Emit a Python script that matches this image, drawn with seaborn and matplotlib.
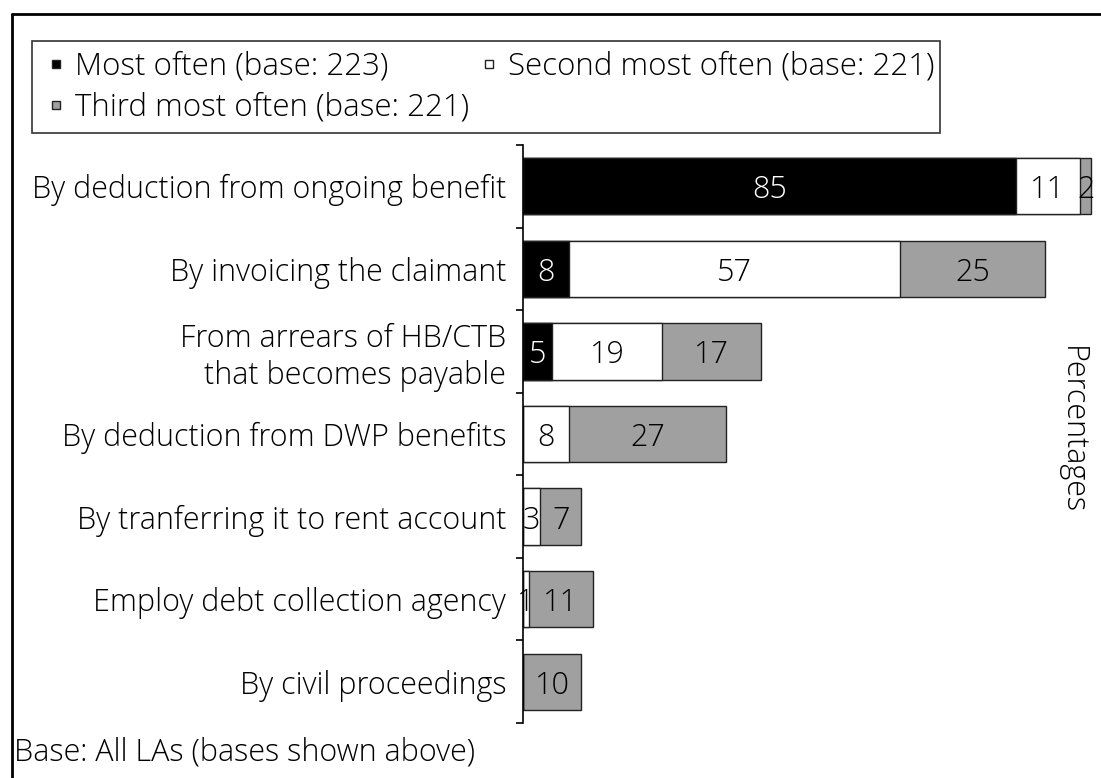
import matplotlib
matplotlib.use("Agg")
import matplotlib.pyplot as plt
from matplotlib.lines import Line2D
from matplotlib.patches import Rectangle
import numpy as np
import pandas as pd
import seaborn as sns

# Methods used to recover overpayments, ranked by how often LAs use them
categories = [
    "By deduction from ongoing benefit",
    "By invoicing the claimant",
    "From arrears of HB/CTB\nthat becomes payable",
    "By deduction from DWP benefits",
    "By tranferring it to rent account",
    "Employ debt collection agency",
    "By civil proceedings",
]
most_often = [85, 8, 5, 0, 0, 0, 0]
second_most = [11, 57, 19, 8, 3, 1, 0]
third_most = [2, 25, 17, 27, 7, 11, 10]

series_labels = [
    "Most often (base: 223)",
    "Second most often (base: 221)",
    "Third most often (base: 221)",
]
series_colors = ["#000000", "#ffffff", "#a0a0a0"]
text_colors = ["white", "black", "black"]

sns.set_theme(style="white")
plt.rcParams["font.family"] = ["Open Sans", "DejaVu Sans"]
plt.rcParams["font.weight"] = "light"
plt.rcParams["text.color"] = "black"
plt.rcParams["ytick.color"] = "black"
plt.rcParams["ytick.labelcolor"] = "black"
FS = 22
FS_LEG = 22.5
FS_NOTE = 22

df = pd.DataFrame({
    "category": categories,
    "s1": most_often,
    "s2": second_most,
    "s3": third_most,
})
df["c1"] = df["s1"]
df["c2"] = df["s1"] + df["s2"]
df["c3"] = df["s1"] + df["s2"] + df["s3"]

fig = plt.figure(figsize=(11.01, 7.78), dpi=100)
W, H = 1101, 778
ax = fig.add_axes([523 / W, 1 - 723 / H, (1099 - 523) / W, (723 - 145) / H])

# Stacked bars: draw cumulative totals from back to front
for col, color in zip(["c3", "c2", "c1"], series_colors[::-1]):
    sns.barplot(data=df, y="category", x=col, orient="h", color=color,
                edgecolor="#222222", linewidth=1.0, width=0.68,
                saturation=1, ax=ax, order=categories)

# Segment value labels
for i in range(len(categories)):
    starts = [0, df.loc[i, "c1"], df.loc[i, "c2"]]
    vals = [most_often[i], second_most[i], third_most[i]]
    for s, v, tc in zip(starts, vals, text_colors):
        if v > 0:
            ax.text(s + v / 2, i, str(v), ha="center", va="center_baseline",
                    color=tc, fontsize=FS)

ax.set_xlim(0, 99.3)
ax.set_ylim(len(categories) - 0.5, -0.5)
ax.set_xlabel("")
ax.set_ylabel("")
ax.set_xticks([])
ax.set_yticks(np.arange(len(categories)))
ax.set_yticklabels(categories, fontsize=FS, ha="right", linespacing=1.2)
ax.tick_params(axis="y", which="major", length=0, pad=12)
ax.set_yticks(np.arange(-0.5, len(categories)), minor=True)
ax.tick_params(axis="y", which="minor", length=5, width=1.2, color="black",
               direction="out", left=True)
for side in ["top", "right", "bottom"]:
    ax.spines[side].set_visible(False)
ax.spines["left"].set_color("black")
ax.spines["left"].set_linewidth(1.2)
ax.patch.set_alpha(0)

# Legend box
fig.add_artist(Rectangle((32 / W, 1 - 133 / H), (940 - 32) / W, (133 - 41) / H,
                         transform=fig.transFigure, facecolor="none",
                         edgecolor="#333333", linewidth=1.2))
handles = [
    Line2D([], [], marker="s", linestyle="none", markersize=5.5,
           markerfacecolor=c, markeredgecolor="#222222", markeredgewidth=1)
    for c in series_colors
]
order = [0, 2, 1]
leg = fig.legend([handles[k] for k in order], [series_labels[k] for k in order],
                 ncol=2, loc="upper left",
                 bbox_to_anchor=(46 / W, 1 - 51 / H),
                 fontsize=FS_LEG, frameon=False,
                 handlelength=0.64, handletextpad=0.3, columnspacing=0.3,
                 labelspacing=0.28, borderpad=0, borderaxespad=0)

# Side label and footnote
fig.text(1072 / W, 1 - 430 / H, "Percentages", rotation=270, ha="center",
         va="center", fontsize=FS)
fig.text(14 / W, 1 - 752 / H, "Base: All LAs (bases shown above)",
         ha="left", va="center", fontsize=FS_NOTE)

# Outer frame
fig.add_artist(Line2D([12 / W, 1.0], [1 - 14 / H, 1 - 14 / H],
                      transform=fig.transFigure, color="black", linewidth=2))
fig.add_artist(Line2D([12 / W, 12 / W], [0, 1 - 14 / H],
                      transform=fig.transFigure, color="black", linewidth=2))

fig.savefig("out.png", dpi=100)
